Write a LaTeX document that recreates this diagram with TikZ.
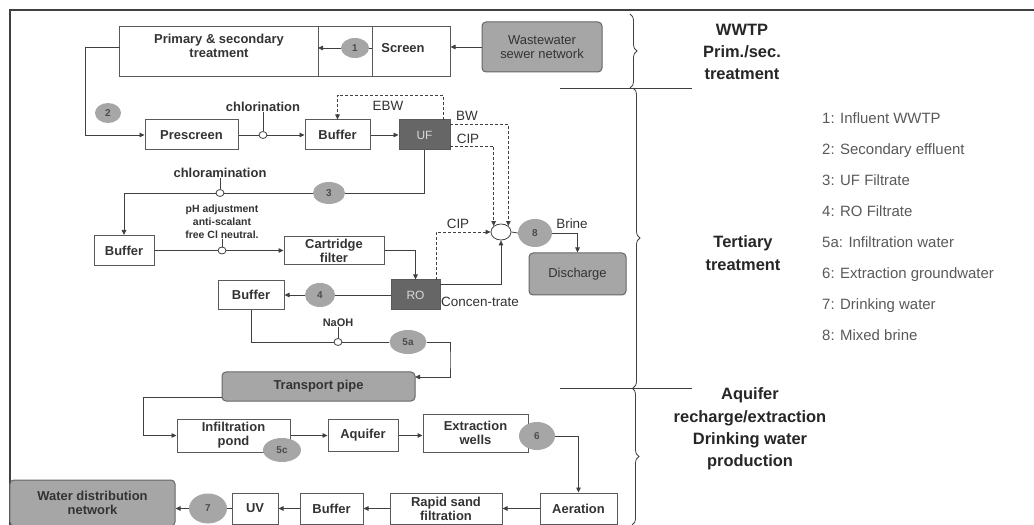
\documentclass[tikz,border=0pt]{standalone}
\usepackage{fontspec}
\setmainfont{Liberation Sans}
\usetikzlibrary{arrows.meta,decorations.pathreplacing,shapes.geometric}
\begin{document}
\begin{tikzpicture}[x=1bp,y=-1bp,
  ln/.style={draw=black!75, line width=0.8bp},
  tip/.style={-{Triangle[length=5bp,width=4.5bp]}},
  arr/.style={ln,tip},
  dsh/.style={ln, dash pattern=on 3bp off 2bp},
  box/.style={draw=black!65, line width=1bp, fill=white, inner sep=1bp, align=center, font=\fontsize{13}{14}\selectfont\bfseries, text=black!80},
  gbox/.style={box, fill=black!35, rounded corners=4bp, draw=black!60},
  dbox/.style={box, fill=black!60, text=black!15, font=\fontsize{12}{13}\selectfont},
  num/.style={ellipse, fill=black!35, inner sep=0, font=\fontsize{10}{11}\selectfont\bfseries, text=black!70},
  inj/.style={ellipse, draw=black!75, line width=0.8bp, fill=white, minimum width=8bp, minimum height=7bp, inner sep=0},
  lab/.style={font=\fontsize{13}{14}\selectfont\bfseries, text=black!80, inner sep=0, align=center},
  slab/.style={font=\fontsize{10.5}{13}\selectfont\bfseries, text=black!80, inner sep=0, align=center},
  rlab/.style={font=\fontsize{13.5}{14}\selectfont, text=black!80, inner sep=0},
  leg/.style={font=\fontsize{15}{16}\selectfont, text=black!65, anchor=west, inner sep=0, text height=11bp, text depth=3bp},
  head/.style={font=\fontsize{16.5}{22.5}\selectfont\bfseries, text=black!85, align=center, inner sep=0},
  brc/.style={draw=black!75, line width=0.8bp, decorate, decoration={brace, amplitude=7bp}},
]
\useasboundingbox (0,0) rectangle (1034,525);
\fill[white] (0,0) rectangle (1034,525);
% frame
\draw[black!75, line width=1.5bp] (1034,10) -- (10,10) -- (10,525);

% ---- WWTP row
\node[box, minimum width=330bp, minimum height=50bp] (wwtp) at (285,52) {};
\draw[draw=black!65, line width=1bp] (318,27) -- (318,77) (372,27) -- (372,77);
\node[lab] (primtxt) at (219,46) {Primary \& secondary\\treatment};
\node[lab] (scr) at (403,48) {Screen};
\node[num, minimum width=28bp, minimum height=20bp] (c1) at (355,48) {1};
\coordinate (d1) at (318,48);
\coordinate (d2) at (372,48);
\draw[arr] (c1) -- (d1);
\draw[ln] (d2) -- (c1);
\node[gbox, font=\fontsize{13}{14}\selectfont, minimum width=120bp, minimum height=50bp] (sewer) at (542,47) {Wastewater\\sewer network};
\draw[arr] (sewer.west) -- (sewer.west -| wwtp.east);

% ---- UF line
\node[num, minimum width=26bp, minimum height=20bp] (c2) at (108,113) {2};
\node[box, minimum width=93bp, minimum height=30bp] (pre) at (191.5,135) {Prescreen};
\node[inj] (j1) at (263,135) {};
\node[lab] (lchl) at (263,107) {chlorination};
\node[box, minimum width=65bp, minimum height=30bp] (buf1) at (337.5,135) {Buffer};
\node[dbox, minimum width=51bp, minimum height=30bp] (UF) at (424.5,135) {UF};
\coordinate (w1) at (120,47);
\draw[arr] (w1) -- (85,47) |- (pre.west);
\draw[ln] (pre.east) -- (j1.west);
\draw[arr] (j1.east) -- (buf1.west);
\draw[ln] (lchl.south) -- (j1.north);
\draw[arr] (buf1.east) -- (UF.west);
\coordinate (ebw0) at (443,120);
\draw[dsh,tip] (ebw0) |- (388,95) -| (buf1.north);
\node[rlab] (lebw) at (388,106) {EBW};

% mixer
\node[inj, minimum width=20bp, minimum height=16bp] (mix) at (501,232) {};
\coordinate (bw0) at (450,124);
\coordinate (cip0) at (450,146);
\draw[dsh,tip] (bw0) -| (mix.north east);
\draw[dsh,tip] (cip0) -| (mix.north west);
\node[rlab] (lbw) at (467,116) {BW};
\node[rlab] (lcip) at (468,139) {CIP};

% UF filtrate
\node[num, minimum width=32bp, minimum height=22bp] (c3) at (329,193) {3};
\node[inj] (j2) at (220,193) {};
\node[lab] (lcham) at (220,173) {chloramination};
\node[box, minimum width=60bp, minimum height=30bp] (buf2) at (124,250.5) {Buffer};
\draw[ln] (UF.south) |- (c3.east);
\draw[ln] (c3.west) -- (j2.east);
\draw[arr] (j2.west) -| (buf2.north);
\draw[ln] (lcham.south) -- (j2.north);

\node[inj] (j3) at (222,250.5) {};
\node[slab] (lph) at (222,222) {pH adjustment\\anti-scalant\\free Cl neutral.};
\node[box, minimum width=100bp, minimum height=28bp] (cart) at (334,250.5) {Cartridge\\filter};
\draw[ln] (buf2.east) -- (j3.west);
\draw[arr] (j3.east) -- (cart.west);
\draw[ln] (lph.south) -- (j3.north);

\node[dbox, minimum width=49bp, minimum height=30bp] (RO) at (415.5,295) {RO};
\draw[arr] (cart.east) -| (RO.north);
\node[num, minimum width=30bp, minimum height=24bp] (c4) at (320,295) {4};
\node[box, minimum width=66bp, minimum height=29bp] (buf3) at (251,295) {Buffer};
\draw[ln] (RO.west) -- (c4.east);
\draw[arr] (c4.west) -- (buf3.east);

\coordinate (roc) at (440,284);
\coordinate (rocip) at (436,280);
\draw[arr] (roc) -| (mix.south);
\draw[dsh,tip] (rocip) |- (mix.west);
\node[rlab] (lcip2) at (458,224) {CIP};
\node[rlab, anchor=west] (lconc) at (441,302) {Concen-trate};

\node[num, minimum width=34bp, minimum height=28bp] (c8) at (535,233) {8};
\node[gbox, font=\fontsize{13}{14}\selectfont, minimum width=97bp, minimum height=42bp] (disch) at (577.5,274) {Discharge};
\draw[ln] (mix.east) -- (c8.west);
\draw[arr] (c8.east) -| (disch.north);
\node[rlab] (lbrine) at (572,224) {Brine};

% NaOH and 5a
\node[inj] (j4) at (338,342) {};
\node[slab, font=\fontsize{11}{13}\selectfont\bfseries] (lnaoh) at (338,323) {NaOH};
\node[num, minimum width=37bp, minimum height=24bp] (c5a) at (408,342) {5a};
\draw[ln] (buf3.south) |- (j4.west);
\draw[ln] (lnaoh.south) -- (j4.north);
\draw[ln] (j4.east) -- (c5a.west);

% ---- aquifer part
\node[gbox, minimum width=193bp, minimum height=29bp] (tp) at (318.5,386.5) {Transport pipe};
\coordinate (tpin) at (415,377);
\draw[arr] (c5a.east) -| (450,360) |- (tpin);
\node[box, minimum width=113bp, minimum height=33bp] (pond) at (233.5,435.5) {Infiltration\\pond};
\coordinate (tpout) at (222,397);
\draw[arr] (tpout) -- (143,397) |- (pond.west);
\node[num, minimum width=38bp, minimum height=24bp] (c5c) at (282,450) {5c};
\node[box, minimum width=70bp, minimum height=32bp] (aq) at (363,435.5) {Aquifer};
\node[box, minimum width=105bp, minimum height=38bp] (ext) at (475.5,433) {Extraction\\wells};
\draw[arr] (pond.east) -- (aq.west);
\draw[arr] (aq.east) -- (aq.east -| ext.west);
\node[num, minimum width=36bp, minimum height=28bp] (c6) at (537,436) {6};

\node[box, minimum width=77bp, minimum height=31bp] (aer) at (578.5,508.5) {Aeration};
\node[box, minimum width=112bp, minimum height=31bp] (rsf) at (446,508.5) {Rapid sand\\filtration};
\node[box, minimum width=63bp, minimum height=31bp] (buf4) at (331.5,508.5) {Buffer};
\node[box, minimum width=46bp, minimum height=31bp] (uv) at (255,508.5) {UV};
\node[num, minimum width=38bp, minimum height=30bp] (c7) at (208,508.5) {7};
\node[gbox, minimum width=165bp, minimum height=46bp] (wdn) at (92.5,503) {Water distribution\\network};
\draw[arr] (c6.east) -| (aer.north);
\draw[arr] (aer.west) -- (rsf.east);
\draw[arr] (rsf.west) -- (buf4.east);
\draw[arr] (buf4.west) -- (uv.east);
\draw[ln] (uv.west) -- (c7.east);
\draw[arr] (c7.west) -- (c7.west -| wdn.east);

% ---- braces and section lines
\draw[brc] (630,14) -- (630,88);
\draw[brc] (633,88) -- (633,388);
\draw[brc] (632,388) -- (632,525);
\draw[ln] (560,88) -- (692,88);
\draw[ln] (560,388) -- (692,388);

\node[head] (h1) at (742,52) {WWTP\\Prim./sec.\\treatment};
\node[head] (h2) at (743,253) {Tertiary\\treatment};
\node[head] (h3) at (750,429) {Aquifer\\recharge/extraction\\Drinking water\\production};

% ---- legend
\node[leg] (g1) at (822,120) {1: Influent WWTP};
\node[leg] (g2) at (822,151) {2: Secondary effluent};
\node[leg] (g3) at (822,182) {3: UF Filtrate};
\node[leg] (g4) at (822,213) {4: RO Filtrate};
\node[leg] (g5) at (822,244) {5a: Infiltration water};
\node[leg] (g6) at (822,275) {6: Extraction groundwater};
\node[leg] (g7) at (822,306) {7: Drinking water};
\node[leg] (g8) at (822,337) {8: Mixed brine};
\end{tikzpicture}
\end{document}
